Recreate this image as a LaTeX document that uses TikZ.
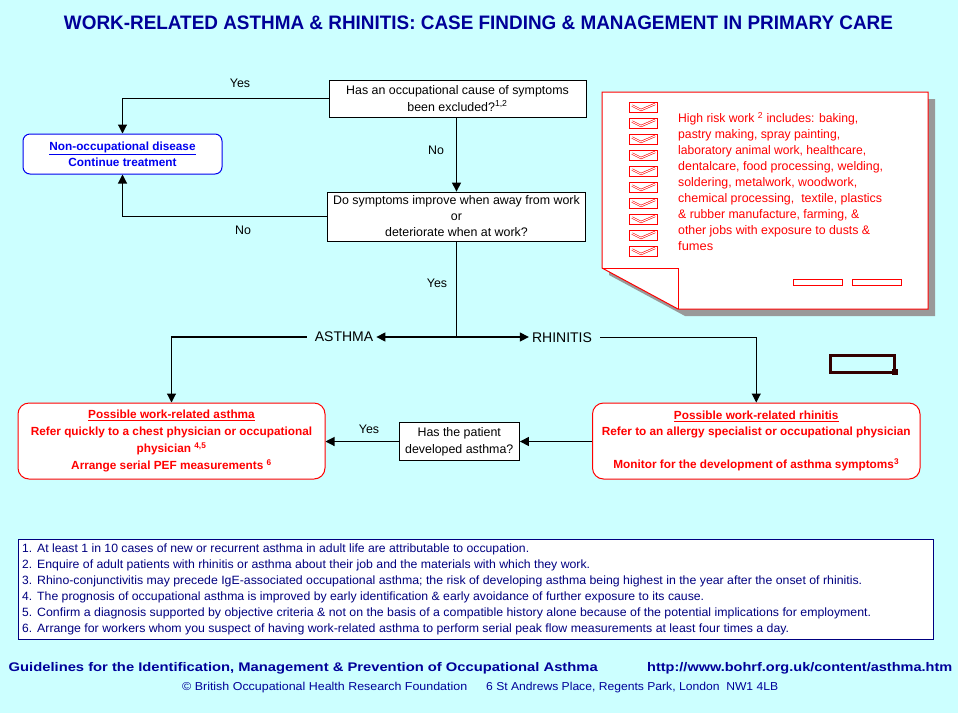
\documentclass[tikz,border=0pt]{standalone}
\usepackage{fontspec}
\setmainfont{Liberation Sans}
\usepackage{graphicx}
\usetikzlibrary{arrows.meta}
\definecolor{bgc}{HTML}{CCFFFF}
\definecolor{navy}{HTML}{000099}
\definecolor{fnblue}{HTML}{000080}
\definecolor{nblue}{HTML}{0000EE}
\definecolor{rred}{HTML}{FF0000}
\definecolor{shadowc}{HTML}{999999}
\definecolor{darkmaroon}{HTML}{330000}
\newcommand\fitw[2]{\resizebox{#1}{\height}{#2}}
\newcommand\fs[2]{\fontsize{#1}{#2}\selectfont}
\begin{document}
\begin{tikzpicture}[x=1pt,y=-1pt,
  arr/.style={line width=1.1pt,-{Triangle[length=9pt,width=9pt]}},
  conn/.style={line width=1.1pt},
  qbox/.style={draw=black,line width=0.8pt,fill=white,align=center,inner sep=0pt,font=\fs{12.4}{16.5}},
  rbox/.style={draw=rred,line width=1pt,fill=white,rounded corners=11pt,align=center,inner sep=0pt,text=rred,font=\fs{11.8}{17}\bfseries},
  lbl/.style={inner sep=0pt,font=\fs{12.4}{15}},
  bigl/.style={inner sep=0pt,inner xsep=3pt,font=\fs{14}{16}},
  notet/.style={anchor=base west,inner sep=0pt,text=rred,font=\fs{12.4}{15}},
  fnt/.style={anchor=base west,inner sep=0pt,text=fnblue,font=\fs{12}{15}},
]
\useasboundingbox (0,0) rectangle (958,713);
\fill[bgc] (0,0) rectangle (958,713);

% title
\node[anchor=base,text=navy,font=\fs{19.5}{22}\bfseries,inner sep=0pt] (title) at (478.5,29)
  {\fitw{829pt}{WORK-RELATED ASTHMA \& RHINITIS: CASE FINDING \& MANAGEMENT IN PRIMARY CARE}};

% boxes
\node[qbox,minimum width=257pt,minimum height=37pt] (q1) at (457.5,98.5)
  {Has an occupational cause of symptoms\\been excluded?\textsuperscript{1,2}};
\node[qbox,minimum width=258pt,minimum height=49pt,font=\fs{12.4}{16}] (q2) at (456.5,216.5)
  {Do symptoms improve when away from work\\or\\deteriorate when at work?};
\node[draw=nblue,line width=1pt,fill=white,rounded corners=7pt,align=center,inner sep=0pt,
      text=nblue,font=\fs{11.8}{16}\bfseries,minimum width=199pt,minimum height=40pt] (nonocc) at (122.5,154)
  {\underline{Non-occupational disease}\\Continue treatment};
\node[rbox,minimum width=307pt,minimum height=76pt] (asthma) at (171.5,441)
  {\underline{Possible work-related asthma}\\Refer quickly to a chest physician or occupational\\physician \textsuperscript{4,5}\\Arrange serial PEF measurements \textsuperscript{6}};
\node[rbox,minimum width=327.5pt,minimum height=76pt,font=\fs{11.8}{16.5}\bfseries] (rhinitis) at (756.25,441)
  {\underline{Possible work-related rhinitis}\\Refer to an allergy specialist or occupational physician\\[16.5pt]Monitor for the development of asthma symptoms\textsuperscript{3}};
\node[qbox,minimum width=120.5pt,minimum height=38pt,font=\fs{12.4}{17}] (patient) at (459.25,441.5)
  {Has the patient\\developed asthma?};

% connectors
\draw[arr] (q1.west) -| (nonocc.north);
\node[lbl] (yes1) at (240,83) {Yes};
\draw[arr] (q2.north |- q1.south) -- (q2.north);
\node[lbl] (no1) at (436,150) {No};
\draw[arr] (q2.west) -| (nonocc.south);
\node[lbl] (no2) at (243,230) {No};
\coordinate (split) at (456.5,337);
\draw[conn] (q2.south) -- (split);
\node[lbl] (yes2) at (437,283) {Yes};
\node[bigl] (asth) at (344,337) {ASTHMA};
\node[bigl] (rhin) at (562,337.5) {RHINITIS};
\draw[arr] (split) -- (asth.east);
\draw[arr] ([xshift=-5pt]asth.west) -| (asthma.north);
\draw[arr] (split) -- (split -| rhin.west);
\draw[arr] ([xshift=5pt]rhin.east) -| (rhinitis.north);
\draw[arr] (rhinitis.west |- patient.east) -- (patient.east);
\draw[arr] (patient.west) -- (patient.west -| asthma.east);
\node[lbl] (yes3) at (369,429) {Yes};

% note sheet
\fill[shadowc] (609,99) -- (935,99) -- (935,316) -- (685,316) -- (609,275) -- cycle;
\draw[rred,fill=white,line width=1pt] (602,92) -- (928,92) -- (928,309) -- (678,309) -- (602,268) -- cycle;
\draw[rred,line width=1pt] (602,268) -- (678,268) -- (678,309);
\foreach \i in {0,...,9} {
  \draw[rred,line width=0.9pt] (629,{102.5+16*\i}) rectangle (657,{112.5+16*\i});
  \draw[rred,line width=0.6pt,double=white,double distance=1pt]
     (632,{105.5+16*\i}) -- (641,{110+16*\i}) -- (655,{104+16*\i});
}
\foreach \w/\t [count=\i from 0] in {
  180/{High risk work \textsuperscript{2} includes: baking,},
  162/{pastry making, spray painting,},
  188/{laboratory animal work, healthcare,},
  205/{dentalcare, food processing, welding,},
  179/{soldering, metalwork, woodwork,},
  204/{chemical processing, \ textile, plastics},
  181/{\& rubber manufacture, farming, \&},
  192/{other jobs with exposure to dusts \&},
  35/{fumes}} {
  \node[notet] (note\i) at (678,{122.5+16*\i}) {\fitw{\w pt}{\t}};
}
\draw[rred,line width=1pt,fill=white] (793,279) rectangle (842,285.5);
\draw[rred,line width=1pt,fill=white] (852,279) rectangle (901,285.5);

% dark small box
\draw[darkmaroon,line width=3pt] (830.5,355.5) rectangle (894.5,372.5);
\fill[darkmaroon] (892,369) rectangle (898,375);

% footnotes
\draw[fnblue,line width=1pt,fill=white] (18.5,539.5) rectangle (933,639);
\foreach \w/\t [count=\i from 1] in {
  492/{At least 1 in 10 cases of new or recurrent asthma in adult life are attributable to occupation.},
  553/{Enquire of adult patients with rhinitis or asthma about their job and the materials with which they work.},
  825/{Rhino-conjunctivitis may precede IgE-associated occupational asthma; the risk of developing asthma being highest in the year after the onset of rhinitis.},
  667/{The prognosis of occupational asthma is improved by early identification \& early avoidance of further exposure to its cause.},
  834/{Confirm a diagnosis supported by objective criteria \& not on the basis of a compatible history alone because of the potential implications for employment.},
  752/{Arrange for workers whom you suspect of having work-related asthma to perform serial peak flow measurements at least four times a day.}} {
  \node[fnt] (fnn\i) at (22,{536+16*\i}) {\i.};
  \node[fnt] (fn\i) at (37,{536+16*\i}) {\fitw{\w pt}{\t}};
}

% footer
\node[anchor=base west,inner sep=0pt,text=navy,font=\fs{12.5}{15}\bfseries] (foot1) at (8.5,671)
  {\fitw{589pt}{Guidelines for the Identification, Management \& Prevention of Occupational Asthma}};
\node[anchor=base west,inner sep=0pt,text=navy,font=\fs{12.5}{15}\bfseries] (foot2) at (647,671)
  {\fitw{305pt}{http://www.bohrf.org.uk/content/asthma.htm}};
\node[anchor=base west,inner sep=0pt,text=navy,font=\fs{11.5}{14}] (foot3) at (182,690)
  {\fitw{285pt}{© British Occupational Health Research Foundation}};
\node[anchor=base west,inner sep=0pt,text=navy,font=\fs{11.5}{14}] (foot4) at (486,690)
  {\fitw{292pt}{6 St Andrews Place, Regents Park, London\ \ NW1 4LB}};
\end{tikzpicture}
\end{document}
